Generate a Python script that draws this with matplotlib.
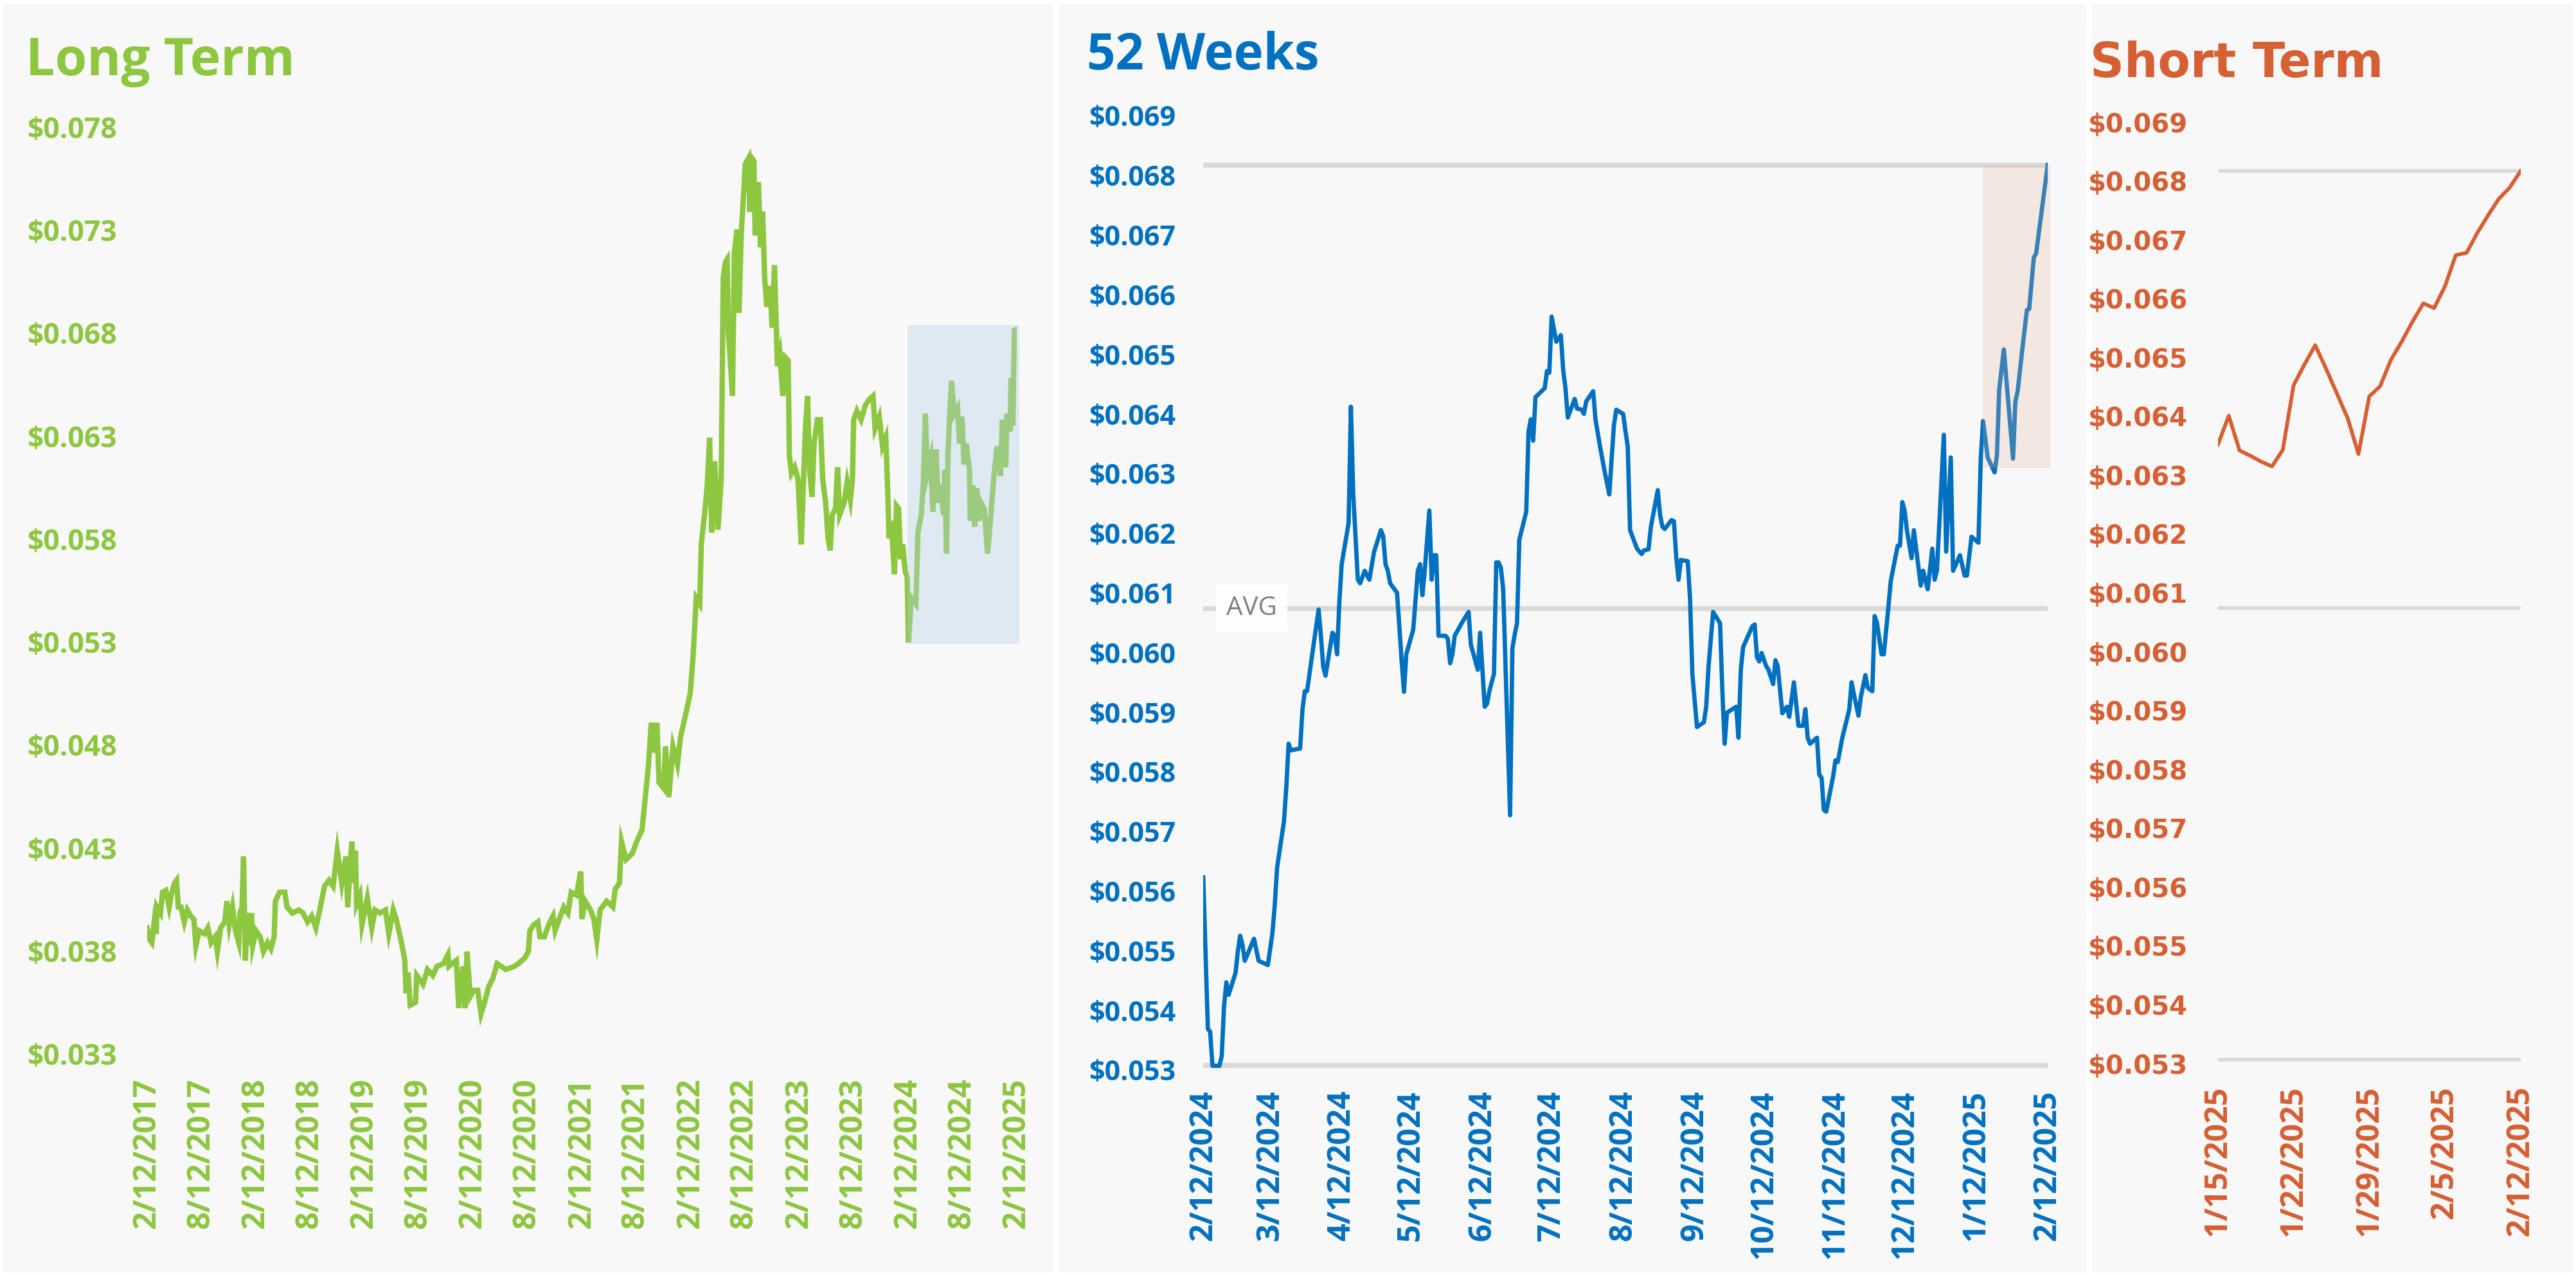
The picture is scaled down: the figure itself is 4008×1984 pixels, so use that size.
import datetime as dt
import matplotlib
matplotlib.use("Agg")
import matplotlib.pyplot as plt
import matplotlib.dates as mdates
from matplotlib.patches import Rectangle
from matplotlib.ticker import FuncFormatter, FixedLocator

GREEN = "#8dc63f"
BLUE = "#0070c0"
ORANGE = "#d65f33"
PANEL_BG = "#f8f8f8"
LINE_GREY = "#d9d9d9"

# ---------------- data ----------------
# long term : days counted from 2/12/2017
long_start = dt.date(2017, 2, 12)
long_days = [0, 9, 16, 24, 31, 33, 45, 52, 63, 74, 81, 92, 99, 105, 114, 125, 135, 146, 157, 164,
             175, 193, 204, 215, 229, 236, 247, 261, 268, 276, 287, 297, 308, 312, 319, 324, 330, 337, 344, 351,
             355, 366, 380, 391, 405, 416, 427, 431, 445, 463, 470, 488, 510, 524, 539, 553, 567, 578, 596, 611,
             625, 639, 654, 668, 674, 683, 688, 693, 700, 704, 715, 722, 740, 755, 766, 783, 801, 812, 827, 837,
             855, 866, 870, 877, 884, 902, 906, 927, 942, 960, 974, 996, 1011, 1014, 1039, 1047, 1061, 1068, 1075, 1086,
             1097, 1111, 1122, 1137, 1147, 1162, 1176, 1205, 1234, 1248, 1270, 1281, 1286, 1299, 1313, 1320, 1335, 1349, 1364, 1371,
             1385, 1400, 1414, 1425, 1443, 1457, 1461, 1472, 1490, 1501, 1511, 1522, 1544, 1565, 1573, 1587, 1594, 1609, 1630, 1645,
             1663, 1673, 1684, 1694, 1706, 1713, 1720, 1735, 1742, 1753, 1767, 1782, 1792, 1810, 1825, 1835, 1845, 1857, 1862, 1875,
             1882, 1890, 1897, 1907, 1918, 1929, 1936, 1943, 1949, 1953, 1967, 1973, 1982, 1989, 1996, 2003, 2010, 2021, 2025, 2032,
             2039, 2043, 2054, 2061, 2068, 2075, 2082, 2093, 2100, 2108, 2118, 2126, 2136, 2144, 2154, 2158, 2165, 2176, 2187, 2198,
             2205, 2212, 2219, 2226, 2234, 2241, 2252, 2262, 2270, 2280, 2288, 2295, 2302, 2313, 2320, 2327, 2342, 2352, 2363, 2370,
             2374, 2385, 2399, 2414, 2428, 2439, 2446, 2460, 2471, 2482, 2489, 2493, 2500, 2511, 2518, 2525, 2532, 2539, 2547, 2554,
             2558, 2568, 2583, 2590, 2601, 2608, 2615, 2622, 2633, 2640, 2651, 2658, 2666, 2676, 2680, 2686, 2691, 2698, 2703, 2712,
             2723, 2730, 2738, 2745, 2752, 2763, 2766, 2774, 2781, 2788, 2795, 2802, 2813, 2824, 2835, 2846, 2856, 2867, 2874, 2885,
             2889, 2900, 2903, 2909, 2914, 2922]
long_prices = [0.03912, 0.03854, 0.03840, 0.03941, 0.03883, 0.04013, 0.03984, 0.04085, 0.04094, 0.04013,
               0.04071, 0.04129, 0.04143, 0.04013, 0.04013, 0.03941, 0.03999, 0.03970, 0.03955, 0.03826,
               0.03898, 0.03883, 0.03912, 0.03840, 0.03869, 0.03797, 0.03912, 0.03941, 0.04042, 0.03927,
               0.04013, 0.03898, 0.03840, 0.03984, 0.04013, 0.04259, 0.03754, 0.03984, 0.03826, 0.03984,
               0.03826, 0.03898, 0.03869, 0.03797, 0.03840, 0.03811, 0.03869, 0.04042, 0.04085, 0.04085,
               0.04013, 0.03984, 0.03999, 0.03984, 0.03941, 0.03970, 0.03912, 0.03984, 0.04114, 0.04143,
               0.04114, 0.04287, 0.04129, 0.04259, 0.04013, 0.04230, 0.04331, 0.04129, 0.04287, 0.04028,
               0.04071, 0.03927, 0.04057, 0.03912, 0.03999, 0.03984, 0.03999, 0.03883, 0.03999, 0.03955,
               0.03840, 0.03754, 0.03595, 0.03696, 0.03537, 0.03551, 0.03681, 0.03638, 0.03710, 0.03681,
               0.03725, 0.03739, 0.03782, 0.03725, 0.03754, 0.03523, 0.03725, 0.03523, 0.03797, 0.03580,
               0.03609, 0.03609, 0.03494, 0.03566, 0.03624, 0.03667, 0.03739, 0.03710, 0.03725, 0.03739,
               0.03768, 0.03797, 0.03898, 0.03927, 0.03941, 0.03869, 0.03869, 0.03927, 0.03970, 0.03898,
               0.03955, 0.04013, 0.03984, 0.04085, 0.04071, 0.04186, 0.03955, 0.04042, 0.03999, 0.03955,
               0.03854, 0.03999, 0.04042, 0.04013, 0.04100, 0.04129, 0.04331, 0.04244, 0.04273, 0.04331,
               0.04388, 0.04533, 0.04691, 0.04908, 0.04764, 0.04908, 0.04619, 0.04591, 0.04793, 0.04547,
               0.04793, 0.04706, 0.04836, 0.04951, 0.05052, 0.05240, 0.05514, 0.05485, 0.05774, 0.05947,
               0.06062, 0.06293, 0.05832, 0.06178, 0.05846, 0.06091, 0.07072, 0.07145, 0.07159, 0.06813,
               0.06495, 0.07188, 0.07303, 0.06899, 0.07275, 0.07448, 0.07621, 0.07650, 0.07390, 0.07650,
               0.07635, 0.07275, 0.07534, 0.07217, 0.07390, 0.07072, 0.06928, 0.07029, 0.06827, 0.07130,
               0.06640, 0.06697, 0.06495, 0.06683, 0.06668, 0.06207, 0.06120, 0.06149, 0.06091, 0.05774,
               0.06062, 0.06337, 0.06495, 0.06135, 0.06005, 0.06264, 0.06380, 0.06380, 0.06091, 0.05976,
               0.05803, 0.05745, 0.05918, 0.05947, 0.06149, 0.05918, 0.05976, 0.06077, 0.05990, 0.06091,
               0.06380, 0.06423, 0.06380, 0.06452, 0.06481, 0.06495, 0.06337, 0.06394, 0.06250, 0.06293,
               0.06005, 0.05803, 0.05889, 0.05630, 0.05961, 0.05947, 0.05702, 0.05774, 0.05644, 0.05615,
               0.05298, 0.05514, 0.05485, 0.05832, 0.05918, 0.06062, 0.06409, 0.06120, 0.06192, 0.05933,
               0.06236, 0.05976, 0.06062, 0.05918, 0.06135, 0.05730, 0.06221, 0.06438, 0.06568, 0.06409,
               0.06438, 0.06264, 0.06394, 0.06163, 0.06264, 0.06135, 0.05889, 0.06062, 0.05860, 0.06048,
               0.05889, 0.05976, 0.05947, 0.05730, 0.05918, 0.06120, 0.06250, 0.06106, 0.06380, 0.06149,
               0.06409, 0.06322, 0.06582, 0.06351, 0.06813, 0.06819]
long_band = (dt.date(2024, 2, 12), dt.date(2025, 2, 21), 0.0529, 0.0684)

# 52 weeks : days counted from 2/12/2024
w52_start = dt.date(2024, 2, 12)
w52_days = [0, 2, 3, 4, 7, 8, 9, 10, 11, 14, 15, 16, 17, 18, 22, 24, 28, 30, 31, 32,
            35, 36, 37, 38, 42, 43, 44, 45, 48, 50, 51, 52, 53, 56, 57, 58, 59, 60, 63, 64,
            65, 67, 68, 70, 72, 74, 77, 78, 79, 80, 81, 84, 86, 87, 88, 91, 93, 94, 95, 96,
            98, 99, 100, 101, 102, 105, 106, 107, 108, 109, 112, 115, 116, 119, 120, 122, 123, 124, 126, 127,
            128, 129, 130, 133, 134, 135, 136, 137, 140, 141, 142, 143, 144, 148, 149, 150, 151, 153, 155, 156,
            157, 158, 161, 162, 164, 165, 166, 169, 170, 172, 174, 176, 177, 178, 179, 182, 183, 184, 185, 188,
            190, 191, 193, 194, 197, 198, 199, 200, 203, 204, 205, 206, 207, 210, 211, 212, 214, 217, 218, 219,
            221, 224, 225, 226, 227, 231, 232, 233, 234, 238, 239, 240, 241, 242, 244, 245, 247, 248, 249, 251,
            253, 254, 256, 258, 260, 261, 262, 263, 266, 267, 268, 269, 270, 273, 274, 275, 277, 280, 281, 282,
            284, 285, 287, 288, 290, 291, 292, 294, 295, 297, 298, 301, 302, 303, 304, 305, 307, 308, 311, 312,
            314, 316, 317, 318, 321, 322, 324, 325, 328, 330, 331, 333, 336, 337, 338, 340, 343, 344, 345, 347,
            351, 352, 353, 355, 357, 358, 360, 361, 366]
w52_prices = [0.05623, 0.05369, 0.05364, 0.05307, 0.05307, 0.05323, 0.05406, 0.05447, 0.05426, 0.05463,
              0.05499, 0.05525, 0.05510, 0.05483, 0.05520, 0.05483, 0.05476, 0.05530, 0.05577, 0.05639,
              0.05717, 0.05774, 0.05847, 0.05836, 0.05839, 0.05904, 0.05935, 0.05935, 0.06018, 0.06072,
              0.06028, 0.05976, 0.05961, 0.06033, 0.06028, 0.05997, 0.06085, 0.06148, 0.06217, 0.06412,
              0.06267, 0.06122, 0.06116, 0.06137, 0.06122, 0.06168, 0.06205, 0.06195, 0.06148, 0.06137,
              0.06116, 0.06100, 0.05986, 0.05934, 0.05997, 0.06038, 0.06137, 0.06148, 0.06096, 0.06137,
              0.06238, 0.06122, 0.06163, 0.06163, 0.06028, 0.06028, 0.06023, 0.05982, 0.05997, 0.06028,
              0.06049, 0.06068, 0.06013, 0.05971, 0.06033, 0.05909, 0.05914, 0.05935, 0.05964, 0.06151,
              0.06151, 0.06142, 0.06106, 0.05727, 0.06007, 0.06030, 0.06049, 0.06189, 0.06236, 0.06371,
              0.06391, 0.06355, 0.06428, 0.06443, 0.06472, 0.06469, 0.06563, 0.06521, 0.06532, 0.06474,
              0.06443, 0.06394, 0.06425, 0.06409, 0.06407, 0.06400, 0.06421, 0.06438, 0.06391, 0.06345,
              0.06303, 0.06265, 0.06324, 0.06381, 0.06407, 0.06400, 0.06371, 0.06345, 0.06205, 0.06174,
              0.06165, 0.06171, 0.06173, 0.06210, 0.06272, 0.06231, 0.06211, 0.06207, 0.06222, 0.06220,
              0.06160, 0.06122, 0.06155, 0.06153, 0.06090, 0.05964, 0.05875, 0.05883, 0.05909, 0.05976,
              0.06068, 0.06049, 0.05935, 0.05847, 0.05899, 0.05909, 0.05857, 0.05971, 0.06009, 0.06044,
              0.06047, 0.05992, 0.05985, 0.05999, 0.05977, 0.05971, 0.05947, 0.05987, 0.05977, 0.05898,
              0.05909, 0.05892, 0.05950, 0.05877, 0.05877, 0.05905, 0.05857, 0.05847, 0.05857, 0.05795,
              0.05790, 0.05736, 0.05733, 0.05792, 0.05819, 0.05816, 0.05857, 0.05904, 0.05950, 0.05930,
              0.05894, 0.05925, 0.05962, 0.05941, 0.05935, 0.06061, 0.06050, 0.05997, 0.05997, 0.06078,
              0.06120, 0.06179, 0.06179, 0.06252, 0.06238, 0.06205, 0.06158, 0.06205, 0.06112, 0.06137,
              0.06106, 0.06174, 0.06122, 0.06137, 0.06365, 0.06169, 0.06327, 0.06137, 0.06163, 0.06129,
              0.06129, 0.06194, 0.06184, 0.06325, 0.06388, 0.06327, 0.06302, 0.06330, 0.06441, 0.06508,
              0.06325, 0.06421, 0.06438, 0.06508, 0.06574, 0.06576, 0.06662, 0.06669, 0.06817]
w52_avg = 0.06074

# short term : one value a day from 1/15/2025
short_start = dt.date(2025, 1, 15)
short_prices = [0.06352, 0.06401, 0.06342, 0.06333, 0.06323, 0.06315, 0.06343, 0.06453, 0.06488, 0.06521,
                0.06481, 0.06439, 0.06397, 0.06336, 0.06434, 0.06451, 0.06496, 0.06527, 0.06561, 0.06592,
                0.06584, 0.06621, 0.06674, 0.06678, 0.06712, 0.06742, 0.06770, 0.06789, 0.06817]

long_dates = [long_start + dt.timedelta(days=d) for d in long_days]
w52_dates = [w52_start + dt.timedelta(days=d) for d in w52_days]
short_dates = [short_start + dt.timedelta(days=i) for i in range(len(short_prices))]
w52_max = max(w52_prices)
w52_min = min(w52_prices)


def mdy(x, pos=None):
    d = mdates.num2date(x)
    return f"{d.month}/{d.day}/{d.year}"


def dollars(v, pos=None):
    return f"${v:.3f}"


def style_axis(ax, color, family, ysize, xsize, ypad, xpad):
    ax.set_facecolor("none")
    for s in ax.spines.values():
        s.set_visible(False)
    ax.yaxis.set_major_formatter(FuncFormatter(dollars))
    ax.xaxis.set_major_formatter(FuncFormatter(mdy))
    ax.tick_params(axis="y", length=0, pad=ypad, labelcolor=color, labelsize=ysize)
    ax.tick_params(axis="x", length=0, pad=xpad, labelcolor=color, labelsize=xsize, labelrotation=90)
    for lab in ax.get_yticklabels():
        lab.set_fontfamily(family)
        lab.set_fontweight("bold")
    for lab in ax.get_xticklabels():
        lab.set_fontfamily(["Open Sans", "DejaVu Sans"])
        lab.set_fontweight("bold")


fig = plt.figure(figsize=(40.08, 19.84), dpi=100)
fig.patch.set_facecolor("white")

# panel backgrounds
for x0, x1 in [(0.001, 0.409), (0.411, 0.810), (0.812, 0.999)]:
    fig.patches.append(Rectangle((x0, 0.002), x1 - x0, 0.995, transform=fig.transFigure,
                                 facecolor=PANEL_BG, edgecolor="none", zorder=-10))

# ---------------- Long Term ----------------
ax1 = fig.add_axes([0.0571, 0.1734, 0.3376, 0.7268])
ax1.plot(long_dates, long_prices, color=GREEN, lw=6, solid_joinstyle="miter")
b0, b1, lo, hi = long_band
ax1.add_patch(Rectangle((mdates.date2num(b0), lo), mdates.date2num(b1) - mdates.date2num(b0), hi - lo,
                        facecolor="#b5d1ea", alpha=0.38, edgecolor="none", zorder=3, clip_on=False))
ax1.set_xlim(long_start, dt.date(2025, 2, 12))
ax1.set_ylim(0.033, 0.078)
ax1.yaxis.set_major_locator(FixedLocator([0.033 + 0.005 * i for i in range(10)]))
long_ticks = [dt.date(y, m, 12) for y in range(2017, 2026) for m in (2, 8)][:-1]
ax1.xaxis.set_major_locator(FixedLocator(mdates.date2num(long_ticks)))
style_axis(ax1, GREEN, ["Open Sans", "DejaVu Sans"], 32, 35, 34, 27)
fig.text(0.0100, 0.941, "Long Term", color=GREEN, fontsize=58, fontweight="bold",
         family=["Open Sans", "DejaVu Sans"], ha="left", va="baseline")

# ---------------- 52 Weeks ----------------
ax2 = fig.add_axes([0.4671, 0.1608, 0.3278, 0.7485])
for yv in (w52_max, w52_avg, w52_min):
    ax2.axhline(yv, color=LINE_GREY, lw=5.5, solid_capstyle="round", zorder=1)
ax2.plot(w52_dates, w52_prices, color=BLUE, lw=4.8, zorder=2)
s0 = mdates.date2num(short_start)
ax2.add_patch(Rectangle((s0, min(short_prices) - 0.00006), mdates.date2num(dt.date(2025, 2, 13)) - s0,
                        w52_max - min(short_prices) + 0.00006,
                        facecolor="#e8b59e", alpha=0.25, edgecolor="none", zorder=3, clip_on=False))
ax2.text(dt.date(2024, 3, 4), w52_avg, "AVG", color="#808080", fontsize=29,
         family=["Open Sans", "DejaVu Sans"], ha="center", va="center", zorder=4,
         bbox=dict(facecolor="white", edgecolor="none", pad=12, alpha=0.95))
ax2.set_xlim(w52_start, dt.date(2025, 2, 12))
ax2.set_ylim(0.053, 0.069)
ax2.yaxis.set_major_locator(FixedLocator([0.053 + 0.001 * i for i in range(17)]))
w52_ticks = [dt.date(2024 + (1 + i) // 12, (1 + i) % 12 + 1, 12) for i in range(13)]
ax2.xaxis.set_major_locator(FixedLocator(mdates.date2num(w52_ticks)))
style_axis(ax2, BLUE, ["Open Sans", "DejaVu Sans"], 31, 35, 31, 23)
fig.text(0.4219, 0.9456, "52 Weeks", color=BLUE, fontsize=56, fontweight="bold",
         family=["Open Sans", "DejaVu Sans"], ha="left", va="baseline")

# ---------------- Short Term ----------------
ax3 = fig.add_axes([0.8610, 0.1658, 0.1175, 0.7384])
for yv in (w52_max, w52_avg, w52_min):
    ax3.axhline(yv, color=LINE_GREY, lw=4, zorder=1)
ax3.plot(short_dates, short_prices, color=ORANGE, lw=4.2, zorder=2)
ax3.set_xlim(short_start, dt.date(2025, 2, 12))
ax3.set_ylim(0.053, 0.069)
ax3.yaxis.set_major_locator(FixedLocator([0.053 + 0.001 * i for i in range(17)]))
ax3.xaxis.set_major_locator(FixedLocator(mdates.date2num([short_start + dt.timedelta(days=7 * i) for i in range(5)])))
style_axis(ax3, ORANGE, ["DejaVu Sans"], 29, 35, 34, 25)
fig.text(0.8114, 0.9395, "Short Term", color=ORANGE, fontsize=53, fontweight="bold",
         family="DejaVu Sans", ha="left", va="baseline")

fig.savefig("out.png", dpi=100, facecolor=fig.get_facecolor())
